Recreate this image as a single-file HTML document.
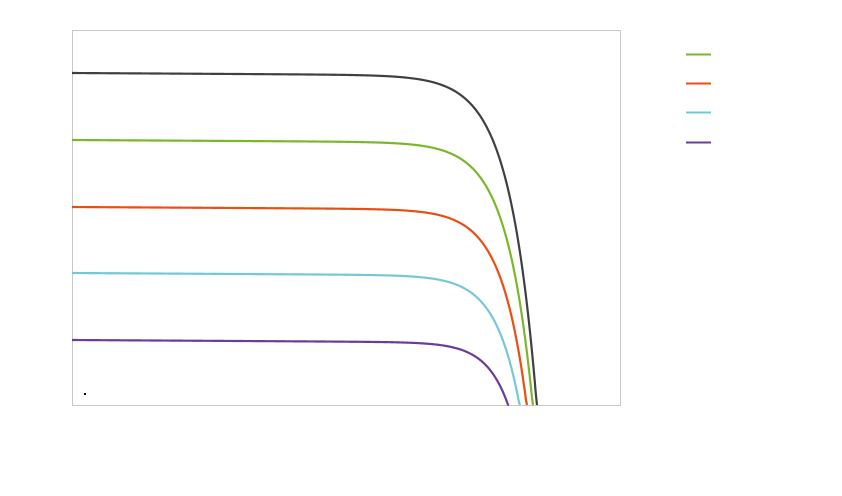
<!DOCTYPE html>
<html><head><meta charset="utf-8"><style>body{margin:0;background:#fff}svg{display:block}</style></head>
<body>
<svg id="s" width="842" height="496" xmlns="http://www.w3.org/2000/svg">
<rect x="72.5" y="30.5" width="548" height="375" fill="none" stroke="#c8c8c8" stroke-width="1"/>
<rect x="84" y="393" width="2" height="2" fill="#000"/>
<line x1="686" y1="54.5" x2="711" y2="54.5" stroke="#7ab829" stroke-width="2"/>
<line x1="686" y1="83.5" x2="711" y2="83.5" stroke="#ea4f12" stroke-width="2"/>
<line x1="686" y1="112.5" x2="711" y2="112.5" stroke="#76c8d6" stroke-width="2"/>
<line x1="686" y1="142.5" x2="711" y2="142.5" stroke="#6a3d9a" stroke-width="2"/>
</svg>
<script>
var s=document.getElementById('s');
var C=[[73,537,'#404040',27],[140,533,'#7ab829',26],[207,527,'#ea4f12',25],[273,520,'#76c8d6',24],[340,509,'#6a3d9a',22]];
C.forEach(function(c){var y0=c[0],xe=c[1],sc=c[3],h=405-y0,d='';
for(var x=72;x<=xe;x+=1){var y=y0+(x-72)*0.006+h*Math.exp((x-xe)/sc);if(y>405)y=405;d+=(x==72?'M':'L')+x+','+y.toFixed(2);}
d+='L'+xe+',405';
var p=document.createElementNS('http://www.w3.org/2000/svg','path');p.setAttribute('d',d);p.setAttribute('fill','none');p.setAttribute('stroke',c[2]);p.setAttribute('stroke-width','2.2');s.appendChild(p);});
</script>
</body></html>
